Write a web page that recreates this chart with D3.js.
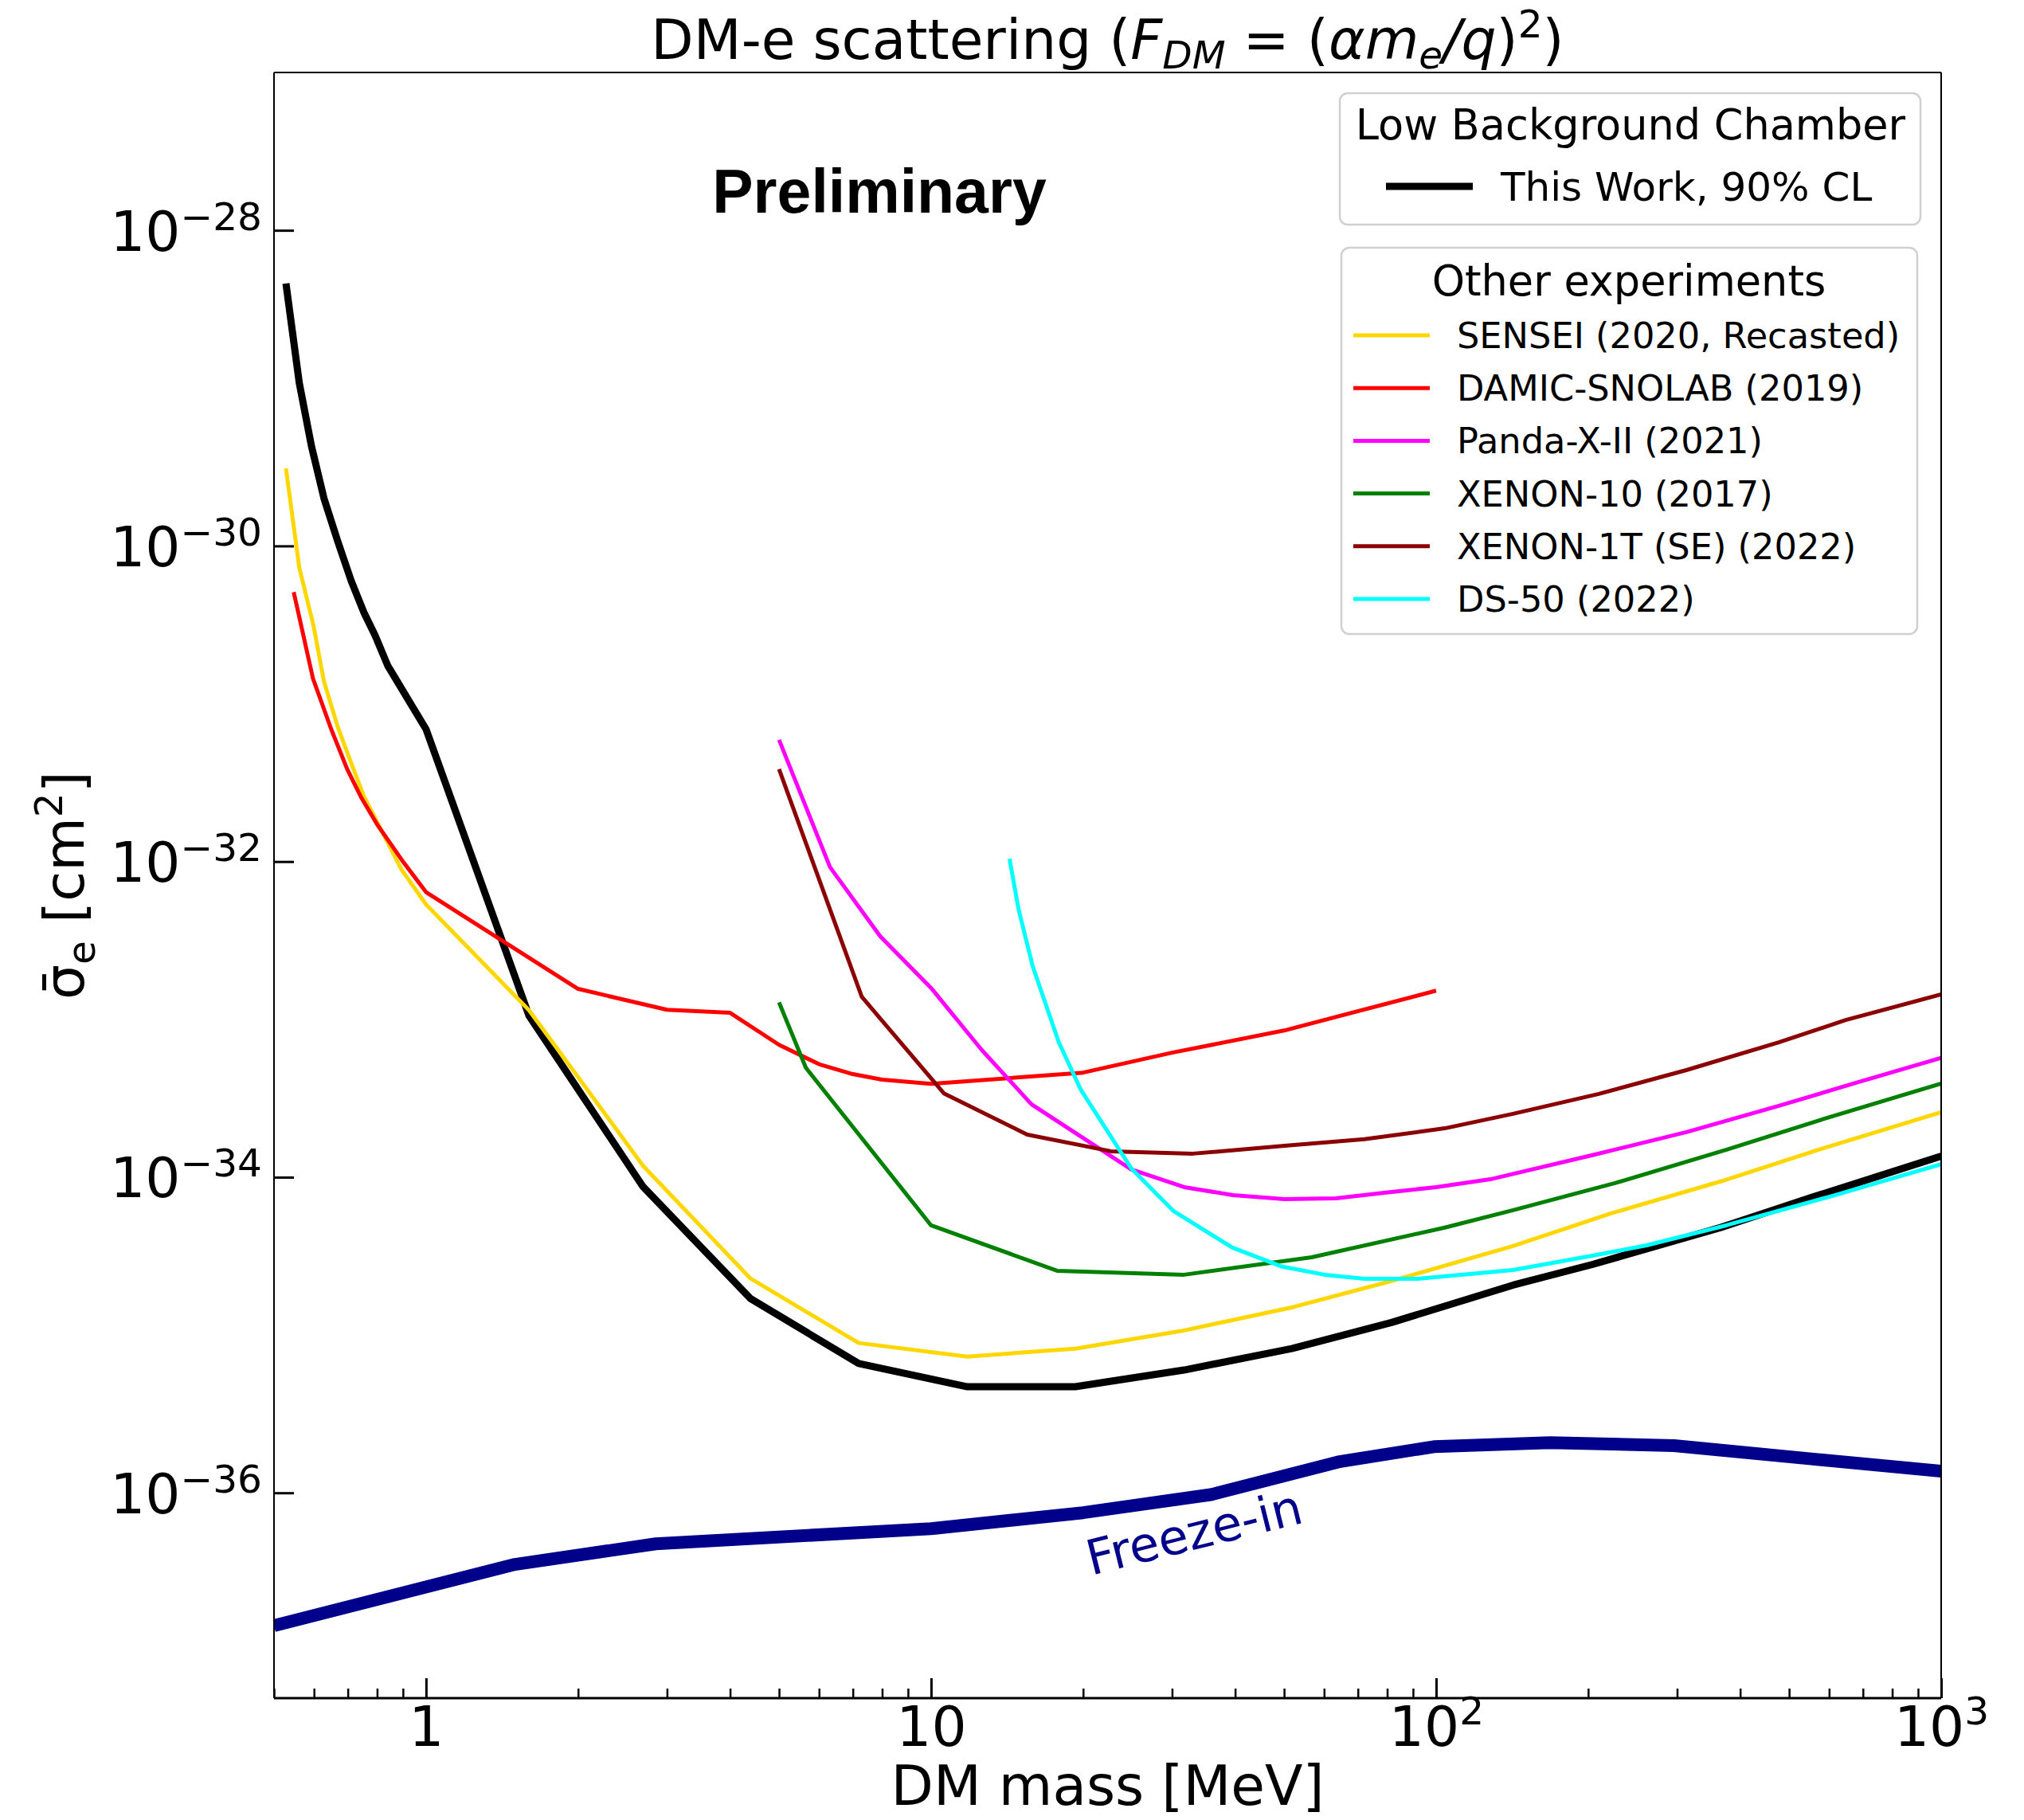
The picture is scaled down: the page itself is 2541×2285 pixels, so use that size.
<!DOCTYPE html>
<html>
<head>
<meta charset="utf-8">
<script src="https://cdn.jsdelivr.net/npm/d3@7"></script>
<style>
  body { margin: 0; background: #fff; }
  text { font-family: "DejaVu Sans", sans-serif; }
</style>
</head>
<body>
<svg id="chart" width="2541" height="2285"></svg>
<script>
// ---- data (mass in MeV, cross section in cm^2) ----
var thisWorkMass  = [0.528, 0.561, 0.593, 0.628, 0.668, 0.711, 0.753, 0.793, 0.840, 1.0, 1.6, 2.69, 4.39, 7.19, 11.8, 19.3, 31.7, 51.8, 81.6, 142, 204, 366, 551, 1000];
var thisWorkSigma = [4.6e-29, 1.08e-29, 4.3e-30, 2.0e-30, 1.08e-30, 6.0e-31, 3.8e-31, 2.7e-31, 1.74e-31, 6.9e-32, 1.05e-33, 8.7e-35, 1.7e-35, 6.6e-36, 4.7e-36, 4.7e-36, 6.0e-36, 8.2e-36, 1.2e-35, 2.07e-35, 2.8e-35, 4.8e-35, 7.4e-35, 1.36e-34];

var senseiMass  = [0.528, 0.561, 0.599, 0.628, 0.668, 0.711, 0.753, 0.810, 0.894, 1.0, 1.6, 2.69, 4.39, 7.19, 11.8, 19.3, 31.3, 52.0, 81.6, 142, 222, 366, 586, 1000];
var senseiSigma = [3.1e-30, 7.3e-31, 3.1e-31, 1.38e-31, 7.2e-32, 4.2e-32, 2.6e-32, 1.65e-32, 8.9e-33, 5.35e-33, 1.14e-33, 1.18e-34, 2.28e-35, 8.9e-36, 7.3e-36, 8.2e-36, 1.06e-35, 1.5e-35, 2.2e-35, 3.66e-35, 5.9e-35, 9.4e-35, 1.53e-34, 2.58e-34];

var damicMass  = [0.547, 0.597, 0.649, 0.698, 0.745, 0.801, 0.900, 1.0, 2.0, 3.0, 4.0, 5.0, 6.0, 7.0, 8.0, 10, 20, 30, 50, 100];
var damicSigma = [5.1e-31, 1.45e-31, 6.9e-32, 3.85e-32, 2.53e-32, 1.71e-32, 1.0e-32, 6.4e-33, 1.56e-33, 1.15e-33, 1.1e-33, 6.9e-34, 5.2e-34, 4.5e-34, 4.15e-34, 3.9e-34, 4.6e-34, 6.15e-34, 8.5e-34, 1.52e-33];

var pandaMass  = [5.0, 6.31, 7.93, 10.0, 12.6, 15.8, 24.9, 31.7, 39.6, 50.1, 63.3, 79.0, 100, 128, 204, 313, 477, 685, 1000];
var pandaSigma = [5.9e-32, 9.2e-33, 3.36e-33, 1.58e-33, 6.4e-34, 2.9e-34, 1.12e-34, 8.65e-35, 7.7e-35, 7.27e-35, 7.35e-35, 7.97e-35, 8.65e-35, 9.7e-35, 1.38e-34, 1.93e-34, 2.83e-34, 4.0e-34, 5.7e-34];

var xenon10Mass  = [5.0, 5.65, 10.0, 17.8, 31.7, 56.7, 104, 142, 226, 375, 608, 1000];
var xenon10Sigma = [1.28e-33, 4.94e-34, 4.95e-35, 2.55e-35, 2.41e-35, 3.11e-35, 4.79e-35, 6.18e-35, 9.17e-35, 1.49e-34, 2.43e-34, 3.92e-34];

var xenon1tMass  = [5.0, 7.29, 10.6, 15.5, 22.7, 33.0, 50.1, 72.1, 104, 142, 210, 313, 477, 647, 1000];
var xenon1tSigma = [3.85e-32, 1.39e-33, 3.4e-34, 1.86e-34, 1.46e-34, 1.41e-34, 1.58e-34, 1.74e-34, 2.04e-34, 2.52e-34, 3.37e-34, 4.77e-34, 7.16e-34, 9.9e-34, 1.44e-33];

var ds50Mass  = [14.3, 14.9, 15.9, 17.9, 19.8, 24.9, 30.2, 39.5, 49.6, 60.1, 72.1, 92.0, 142, 204, 261, 375, 608, 1000];
var ds50Sigma = [1.04e-32, 4.98e-33, 2.16e-33, 7.16e-34, 3.57e-34, 1.14e-34, 6.1e-35, 3.58e-35, 2.71e-35, 2.41e-35, 2.27e-35, 2.27e-35, 2.58e-35, 3.18e-35, 3.7e-35, 4.95e-35, 7.6e-35, 1.21e-34];

var freezeInMass  = [0.5, 1.5, 2.85, 10, 20, 36, 64, 99, 168, 296, 543, 1000];
var freezeInSigma = [1.44e-37, 3.52e-37, 4.75e-37, 5.93e-37, 7.48e-37, 9.77e-37, 1.57e-36, 1.96e-36, 2.08e-36, 1.99e-36, 1.65e-36, 1.37e-36];

var otherLabels = ["SENSEI (2020, Recasted)", "DAMIC-SNOLAB (2019)", "Panda-X-II (2021)", "XENON-10 (2017)", "XENON-1T (SE) (2022)", "DS-50 (2022)"];
var otherColors = ["#FFD700", "#FF0000", "#FF00FF", "#008000", "#8B0000", "#00FFFF"];

var xMajorTicks = [1, 10, 100, 1000];
var xMinorTicks = [0.5, 0.6, 0.7, 0.8, 0.9, 2, 3, 4, 5, 6, 7, 8, 9, 20, 30, 40, 50, 60, 70, 80, 90, 200, 300, 400, 500, 600, 700, 800, 900];
var yMajorTicks = [1e-28, 1e-30, 1e-32, 1e-34, 1e-36];

// ---- layout ----
var svg = d3.select("#chart");
var plotLeft = 344, plotRight = 2437, plotTop = 91, plotBottom = 2132;
var fs = 69.4;   // tick / label size

var x = d3.scaleLog().domain([0.5, 1000]).range([plotLeft, plotRight]);
var y = d3.scaleLog().domain([5e-38, 1e-27]).range([plotBottom, plotTop]);

svg.append("rect").attr("width", 2541).attr("height", 2285).attr("fill", "#fff");

svg.append("clipPath").attr("id", "plotclip")
  .append("rect")
    .attr("x", plotLeft).attr("y", plotTop)
    .attr("width", plotRight - plotLeft).attr("height", plotBottom - plotTop);

var line = d3.line()
    .x(function(d) { return x(d[0]); })
    .y(function(d) { return y(d[1]); });

function pairs(m, s) { return m.map(function(v, i) { return [v, s[i]]; }); }

var plot = svg.append("g").attr("clip-path", "url(#plotclip)");

// freeze-in band line
plot.append("path")
    .datum(pairs(freezeInMass, freezeInSigma))
    .attr("d", line)
    .attr("fill", "none")
    .attr("stroke", "#00008B")
    .attr("stroke-width", 16)
    .attr("stroke-linejoin", "round");

// this work
plot.append("path")
    .datum(pairs(thisWorkMass, thisWorkSigma))
    .attr("d", line)
    .attr("fill", "none")
    .attr("stroke", "#000")
    .attr("stroke-width", 9)
    .attr("stroke-linejoin", "round");

var others = [
  pairs(senseiMass, senseiSigma),
  pairs(damicMass, damicSigma),
  pairs(pandaMass, pandaSigma),
  pairs(xenon10Mass, xenon10Sigma),
  pairs(xenon1tMass, xenon1tSigma),
  pairs(ds50Mass, ds50Sigma)
];

plot.selectAll(".other")
    .data(others)
  .enter().append("path")
    .attr("class", "other")
    .attr("d", line)
    .attr("fill", "none")
    .attr("stroke", function(d, i) { return otherColors[i]; })
    .attr("stroke-width", 5)
    .attr("stroke-linejoin", "round");

// ---- axes ----
var gx = svg.append("g").attr("transform", "translate(0," + plotBottom + ")")
    .call(d3.axisBottom(x).tickValues(xMajorTicks).tickSizeInner(-25).tickSizeOuter(0).tickPadding(11));
gx.select(".domain").remove();
gx.selectAll(".tick line").attr("stroke", "#000").attr("stroke-width", 3);
gx.selectAll(".tick text")
    .attr("font-size", fs).attr("fill", "#000")
    .each(function(d) {
      var e = Math.round(Math.log10(d));
      var t = d3.select(this).text(null);
      if (e < 2) { t.text(String(d)); return; }
      t.append("tspan").text("10");
      t.append("tspan").attr("font-size", fs * 0.7).attr("dy", -27).text(e);
    });

var gxm = svg.append("g").attr("transform", "translate(0," + plotBottom + ")")
    .call(d3.axisBottom(x).tickValues(xMinorTicks).tickSizeInner(-12).tickSizeOuter(0).tickFormat(""));
gxm.select(".domain").remove();
gxm.selectAll(".tick line").attr("stroke", "#000").attr("stroke-width", 2.5);

var gy = svg.append("g").attr("transform", "translate(" + plotLeft + ",0)")
    .call(d3.axisLeft(y).tickValues(yMajorTicks).tickSizeInner(-25).tickSizeOuter(0).tickPadding(15));
gy.select(".domain").remove();
gy.selectAll(".tick line").attr("stroke", "#000").attr("stroke-width", 3);
gy.selectAll(".tick text")
    .attr("font-size", fs).attr("fill", "#000")
    .attr("dy", "0.36em")
    .each(function(d) {
      var e = Math.round(Math.log10(d));
      var t = d3.select(this).text(null);
      t.append("tspan").text("10");
      t.append("tspan").attr("font-size", fs * 0.7).attr("dy", -26).text("\u2212" + Math.abs(e));
    });

// spines
svg.append("line").attr("x1", plotLeft).attr("x2", plotRight).attr("y1", plotTop).attr("y2", plotTop).attr("stroke", "#000").attr("stroke-width", 2);
svg.append("line").attr("x1", plotLeft).attr("x2", plotRight).attr("y1", plotBottom).attr("y2", plotBottom).attr("stroke", "#000").attr("stroke-width", 3);
svg.append("line").attr("x1", plotLeft).attr("x2", plotLeft).attr("y1", plotTop).attr("y2", plotBottom).attr("stroke", "#000").attr("stroke-width", 2);
svg.append("line").attr("x1", plotRight).attr("x2", plotRight).attr("y1", plotTop).attr("y2", plotBottom).attr("stroke", "#000").attr("stroke-width", 2);

// ---- titles and labels ----
var title = svg.append("text")
    .attr("x", (plotLeft + plotRight) / 2).attr("y", 74)
    .attr("text-anchor", "middle").attr("font-size", fs);
title.append("tspan").text("DM-e scattering (");
title.append("tspan").attr("font-style", "italic").text("F");
title.append("tspan").attr("font-style", "italic").attr("font-size", fs * 0.7).attr("dy", 12).text("DM");
title.append("tspan").attr("dy", -12).text(" = (");
title.append("tspan").attr("font-style", "italic").text("\u03b1m");
title.append("tspan").attr("font-style", "italic").attr("font-size", fs * 0.7).attr("dy", 12).text("e");
title.append("tspan").attr("font-style", "italic").attr("dy", -12).text("/q");
title.append("tspan").text(")");
title.append("tspan").attr("font-size", fs * 0.7).attr("dy", -27).text("2");
title.append("tspan").attr("dy", 27).text(")");

svg.append("text")
    .attr("x", (plotLeft + plotRight) / 2).attr("y", 2266)
    .attr("text-anchor", "middle").attr("font-size", fs)
    .text("DM mass [MeV]");

var ylab = svg.append("text")
    .attr("transform", "translate(105," + (plotTop + plotBottom) / 2 + ") rotate(-90)")
    .attr("text-anchor", "middle").attr("font-size", fs);
ylab.append("tspan").text("\u03c3\u0304");
ylab.append("tspan").attr("font-size", fs * 0.7).attr("dy", 14).text("e");
ylab.append("tspan").attr("dy", -14).text(" [cm");
ylab.append("tspan").attr("font-size", fs * 0.7).attr("dy", -27).text("2");
ylab.append("tspan").attr("dy", 27).text("]");

svg.append("text")
    .attr("x", 1104).attr("y", 267)
    .attr("text-anchor", "middle")
    .style("font-family", "'Liberation Sans', Arial, Helvetica, sans-serif")
    .attr("font-weight", "bold").attr("font-size", 77)
    .text("Preliminary");

svg.append("text")
    .attr("transform", "translate(1370,1978) rotate(-14)")
    .attr("font-size", 61).attr("fill", "#00008B")
    .text("Freeze-in");

// ---- legends ----
var leg1 = svg.append("g");
leg1.append("rect")
    .attr("x", 1682).attr("y", 117).attr("width", 729).attr("height", 165)
    .attr("rx", 10).attr("fill", "#fff").attr("fill-opacity", 0.8)
    .attr("stroke", "#d0d0d0").attr("stroke-width", 2.5);
leg1.append("text").attr("x", 2047).attr("y", 175).attr("text-anchor", "middle")
    .attr("font-size", 52.5).text("Low Background Chamber");
leg1.append("line").attr("x1", 1740).attr("x2", 1849).attr("y1", 234).attr("y2", 234)
    .attr("stroke", "#000").attr("stroke-width", 9);
leg1.append("text").attr("x", 1884).attr("y", 252).attr("font-size", 50).text("This Work, 90% CL");

var leg2 = svg.append("g");
leg2.append("rect")
    .attr("x", 1684).attr("y", 311).attr("width", 723).attr("height", 485)
    .attr("rx", 10).attr("fill", "#fff").attr("fill-opacity", 0.8)
    .attr("stroke", "#d0d0d0").attr("stroke-width", 2.5);
leg2.append("text").attr("x", 2045).attr("y", 371).attr("text-anchor", "middle")
    .attr("font-size", 52.5).text("Other experiments");

var entry = leg2.selectAll(".entry")
    .data(otherLabels)
  .enter().append("g")
    .attr("class", "entry")
    .attr("transform", function(d, i) { return "translate(0," + (421 + i * 66.2) + ")"; });
entry.append("line").attr("x1", 1699).attr("x2", 1795)
    .attr("stroke", function(d, i) { return otherColors[i]; }).attr("stroke-width", 5);
entry.append("text").attr("x", 1829).attr("y", 16).attr("font-size", 44.7)
    .text(function(d) { return d; });
</script>
</body>
</html>
